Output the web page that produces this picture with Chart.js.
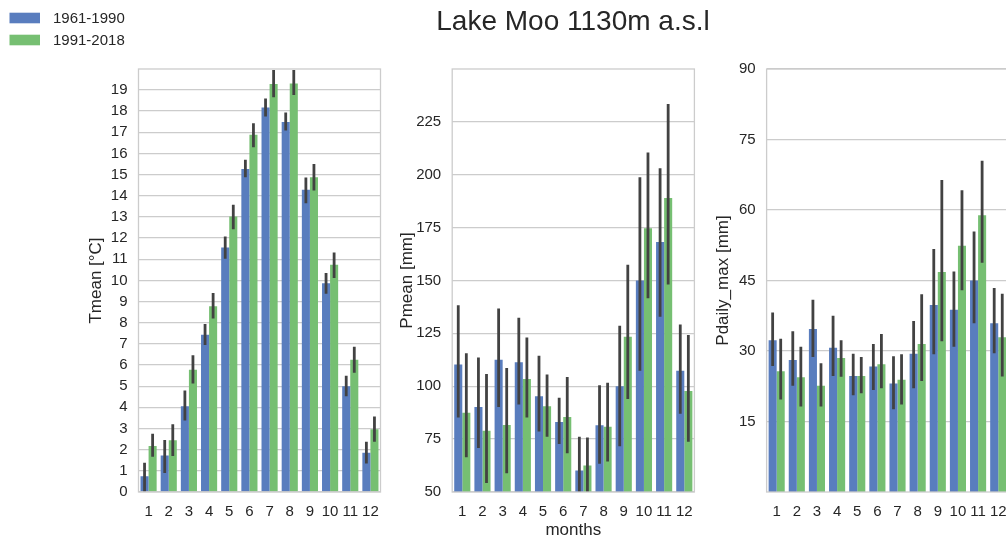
<!DOCTYPE html>
<html>
<head>
<meta charset="utf-8">
<script src="https://cdn.jsdelivr.net/npm/chart.js@4.4.0/dist/chart.umd.min.js"></script>
<style>
html, body { margin: 0; padding: 0; background: #fff; }
#wrap { position: relative; width: 1006px; height: 537px; overflow: hidden; }
#wrap canvas { position: absolute; left: 0; top: 0; }
</style>
</head>
<body>
<div id="wrap">
    <canvas id="c0" width="1020" height="560"></canvas>
    <canvas id="c1" width="1020" height="560"></canvas>
    <canvas id="c2" width="1020" height="560"></canvas>
</div>
<script>
// === Data ===
const months = ['1', '2', '3', '4', '5', '6', '7', '8', '9', '10', '11', '12'];
const periods = ['1961-1990', '1991-2018'];

const tmeanTicks = [0, 1, 2, 3, 4, 5, 6, 7, 8, 9, 10, 11, 12, 13, 14, 15, 16, 17, 18, 19];
const tmeanOld   = [0.75, 1.72, 4.05, 7.43, 11.56, 15.27, 18.17, 17.49, 14.28, 9.87, 5.0, 1.86];
const tmeanOldLo = [0.02, 0.9, 3.38, 6.95, 11.02, 14.88, 17.74, 17.08, 13.65, 9.37, 4.52, 1.35];
const tmeanOldHi = [1.38, 2.46, 4.8, 7.94, 12.08, 15.7, 18.6, 17.93, 14.86, 10.35, 5.49, 2.38];
const tmeanNew   = [2.17, 2.44, 5.78, 8.78, 13.02, 16.88, 19.28, 19.31, 14.88, 10.74, 6.25, 2.97];
const tmeanNewLo = [1.67, 1.7, 5.13, 8.2, 12.42, 16.29, 18.65, 18.76, 14.25, 10.11, 5.63, 2.38];
const tmeanNewHi = [2.75, 3.2, 6.46, 9.4, 13.57, 17.43, 19.94, 19.94, 15.5, 11.32, 6.86, 3.57];

const pmeanTicks = [50, 75, 100, 125, 150, 175, 200, 225];
const pmeanOld   = [110.2, 90.2, 112.5, 111.3, 95.2, 83.1, 60.2, 81.6, 100, 150, 168.2, 107.3];
const pmeanOldLo = [85.2, 70.8, 90.2, 91.4, 78.6, 72.7, 45, 63.3, 71.6, 107.3, 132.8, 87];
const pmeanOldHi = [138.3, 113.6, 136.7, 132.3, 114.4, 94.5, 76.1, 100.5, 128.6, 198.7, 203, 129.2];
const pmeanNew   = [87.5, 78.9, 81.7, 103.4, 90.5, 85.5, 62.5, 80.8, 123.4, 174.6, 188.9, 97.7];
const pmeanNewLo = [66.4, 54.2, 58.9, 85.2, 76.1, 68.3, 48, 64.4, 94, 141.6, 148.1, 73.75];
const pmeanNewHi = [115.6, 105.8, 108.6, 123, 105.5, 104.4, 75.8, 101.6, 157.4, 210.4, 233.4, 124.2];

const pdmaxTicks = [15, 30, 45, 60, 75, 90];
const pdmaxOld   = [32.3, 28.1, 34.7, 30.7, 24.7, 26.7, 23.1, 29.4, 39.8, 38.8, 45, 35.9];
const pdmaxOldLo = [26.8, 22.6, 28.7, 24.7, 20.6, 21.7, 17.6, 22.1, 29.3, 30.9, 35.9, 29.5];
const pdmaxOldHi = [38.2, 34.2, 40.9, 37.5, 29.4, 31.5, 28.9, 36.4, 51.7, 46.9, 55.4, 43.4];
const pdmaxNew   = [25.7, 24.4, 22.6, 28.5, 24.7, 27.2, 23.9, 31.5, 46.8, 52.4, 58.9, 32.9];
const pdmaxNewLo = [19.7, 18.2, 18.2, 24.5, 21, 22.1, 18.6, 23.6, 32.1, 42.9, 48.8, 24.6];
const pdmaxNewHi = [32.6, 30.9, 27.4, 32.3, 28.7, 33.6, 29.3, 42.1, 66.4, 64.2, 70.5, 42.2];

// === Style ===
const BLUE = '#597DBE';
const GREEN = '#76BF72';
const GRID = '#cccccc';
const TEXT = '#262626';
const CW = 1020, CH = 560;
const Y_W = 70, X_H = 60;
const PLOT_TOP = 69, PLOT_BOTTOM = 492;

Chart.defaults.font.family = '"Liberation Sans", Arial, sans-serif';
Chart.defaults.color = TEXT;

// error bars drawn on each bar centre
const errorBars = {
    id: 'errorBars',
    afterDatasetsDraw(chart) {
        const { ctx, chartArea: a } = chart;
        const y = chart.scales.y;
        ctx.save();
        ctx.beginPath();
        ctx.rect(a.left, a.top, a.right - a.left, a.bottom - a.top);
        ctx.clip();
        ctx.strokeStyle = '#424242';
        ctx.lineWidth = 2.8;
        chart.data.datasets.forEach((ds, i) => {
            chart.getDatasetMeta(i).data.forEach((bar, j) => {
                ctx.beginPath();
                ctx.moveTo(bar.x, y.getPixelForValue(ds.lo[j]));
                ctx.lineTo(bar.x, y.getPixelForValue(ds.hi[j]));
                ctx.stroke();
            });
        });
        ctx.restore();
    },
};

// light grey spines on all four sides
const frame = {
    id: 'frame',
    afterDraw(chart) {
        const { ctx, chartArea: a } = chart;
        ctx.save();
        ctx.strokeStyle = GRID;
        ctx.lineWidth = 1.3;
        ctx.strokeRect(a.left, a.top, a.right - a.left, a.bottom - a.top);
        ctx.restore();
    },
};

// figure title + legend (only on first canvas)
const figureText = {
    id: 'figureText',
    afterDraw(chart) {
        const ctx = chart.ctx;
        ctx.save();
        ctx.fillStyle = TEXT;
        ctx.font = '28px "Liberation Sans", Arial, sans-serif';
        ctx.textAlign = 'center';
        ctx.textBaseline = 'middle';
        ctx.fillText('Lake Moo 1130m a.s.l', 573, 22);

        ctx.font = '15px "Liberation Sans", Arial, sans-serif';
        ctx.textAlign = 'left';
        chart.data.datasets.forEach((ds, i) => {
            const cy = 18 + i * 22;
            ctx.fillStyle = ds.backgroundColor;
            ctx.fillRect(9.5, cy - 5.3, 30.5, 10.6);
            ctx.fillStyle = TEXT;
            ctx.fillText(ds.label, 53, cy + 1);
        });
        ctx.restore();
    },
};

function makeChart(id, cfg) {
    const datasets = [
        { label: periods[0], data: cfg.old, lo: cfg.oldLo, hi: cfg.oldHi, backgroundColor: BLUE },
        { label: periods[1], data: cfg.neu, lo: cfg.neuLo, hi: cfg.neuHi, backgroundColor: GREEN },
    ];
    const plugins = [errorBars, frame];
    if (cfg.figureText) plugins.push(figureText);

    return new Chart(document.getElementById(id), {
        type: 'bar',
        data: { labels: months, datasets },
        plugins,
        options: {
            responsive: false,
            animation: false,
            events: [],
            layout: {
                padding: {
                    left: cfg.left - Y_W,
                    right: CW - cfg.right,
                    top: PLOT_TOP,
                    bottom: CH - PLOT_BOTTOM - X_H,
                },
            },
            datasets: {
                bar: { categoryPercentage: 0.8, barPercentage: 1.0, borderWidth: 0 },
            },
            plugins: { legend: { display: false }, tooltip: { enabled: false } },
            scales: {
                x: {
                    grid: { display: false, drawTicks: false },
                    border: { display: false },
                    ticks: { font: { size: 15 }, padding: 11, maxRotation: 0, autoSkip: false },
                    title: {
                        display: !!cfg.xTitle,
                        text: cfg.xTitle || '',
                        font: { size: 17 },
                        padding: { top: 0, bottom: 11.8 },
                    },
                    afterFit(scale) { scale.height = X_H; },
                },
                y: {
                    min: cfg.min,
                    max: cfg.max,
                    grid: { color: GRID, lineWidth: 1.3, drawTicks: false },
                    border: { display: false },
                    ticks: { font: { size: 15 }, padding: 11, autoSkip: false },
                    title: {
                        display: true,
                        text: cfg.yTitle,
                        font: { size: 17 },
                        padding: { top: cfg.yTitlePad, bottom: 0 },
                    },
                    afterBuildTicks(scale) {
                        scale.ticks = cfg.ticks.map(v => ({ value: v }));
                    },
                    afterFit(scale) { scale.width = Y_W; },
                },
            },
        },
    });
}

makeChart('c0', {
    old: tmeanOld, oldLo: tmeanOldLo, oldHi: tmeanOldHi,
    neu: tmeanNew, neuLo: tmeanNewLo, neuHi: tmeanNewHi,
    left: 138.5, right: 380.5, min: 0, max: 19.99, ticks: tmeanTicks,
    yTitle: 'Tmean [°C]', yTitlePad: 17.3, figureText: true,
});

makeChart('c1', {
    old: pmeanOld, oldLo: pmeanOldLo, oldHi: pmeanOldHi,
    neu: pmeanNew, neuLo: pmeanNewLo, neuHi: pmeanNewHi,
    left: 452.2, right: 694.4, min: 50, max: 249.9, ticks: pmeanTicks,
    yTitle: 'Pmean [mm]', yTitlePad: 15, xTitle: 'months',
});

makeChart('c2', {
    old: pdmaxOld, oldLo: pdmaxOldLo, oldHi: pdmaxOldHi,
    neu: pdmaxNew, neuLo: pdmaxNewLo, neuHi: pdmaxNewHi,
    left: 766.6, right: 1008.3, min: 0, max: 90, ticks: pdmaxTicks,
    yTitle: 'Pdaily_max [mm]', yTitlePad: 16.2,
});
</script>
</body>
</html>
